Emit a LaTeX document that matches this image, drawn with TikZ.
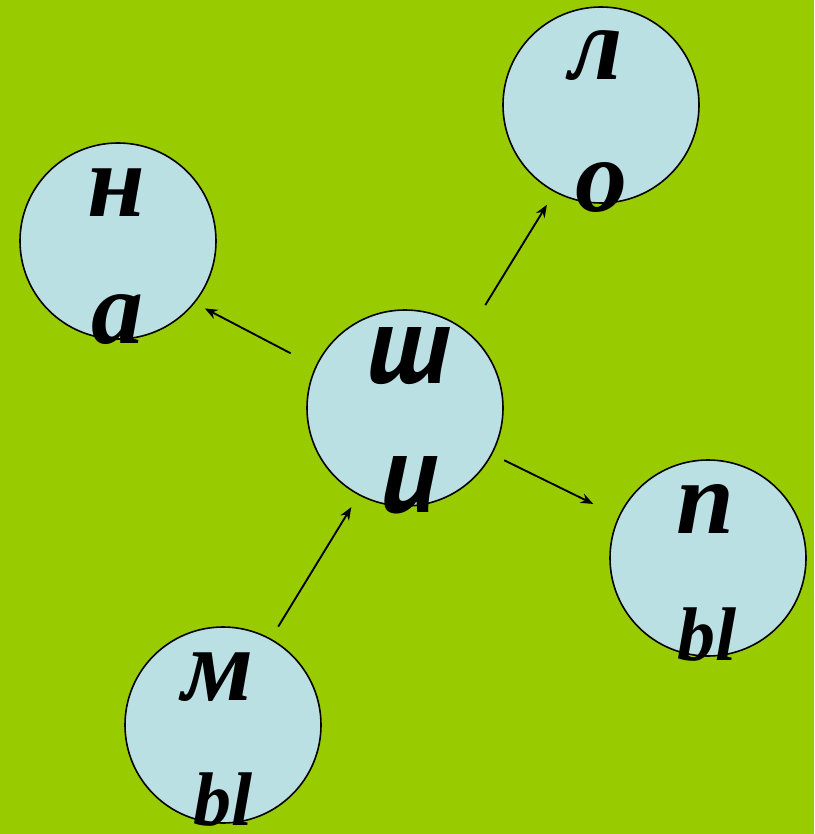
\documentclass[tikz,border=0pt]{standalone}
\usepackage{fontspec}
\setmainfont{Liberation Serif}
\newfontfamily\shifont{PT Sans}
\usetikzlibrary{arrows.meta, positioning}
\definecolor{mLime}{HTML}{99CC00}
\definecolor{mPale}{HTML}{BBE0E3}

\begin{document}
\begin{tikzpicture}[x=0.75pt, y=-0.75pt,
    bubble/.style={circle, draw, line width=1.2pt, fill=mPale, minimum size=147pt, inner sep=0pt},
    letterbig/.style={anchor=base, inner sep=0pt, font=\fontsize{78}{78}\selectfont\bfseries\itshape},
    lettersmall/.style={anchor=base, inner sep=0pt, font=\fontsize{57}{57}\selectfont\bfseries\itshape},
    lettermid/.style={anchor=base, inner sep=0pt, font=\shifont\fontsize{84}{84}\selectfont\bfseries\itshape},
    link/.style={-{Stealth[length=9.5pt, width=7.5pt]}, line width=1.4pt}]
    \useasboundingbox (0,0) rectangle (814,834);
    \fill[mLime] (0,0) rectangle (814,834);
    \node[bubble] (na) at (118,241) {};
    \node[bubble] (lo) at (601,105) {};
    \node[bubble] (shi) at (405,408) {};
    \node[bubble] (pb) at (708,558) {};
    \node[bubble] (mb) at (223,725) {};
    \node[letterbig] (na1) at (116,217) {н};
    \node[letterbig] (na2) at (117,343) {а};
    \node[letterbig] (lo1) at (596,80) {л};
    \node[letterbig] (lo2) at (601,211) {о};
    \node[lettermid] (shi1) at (408,383) {ш};
    \node[lettermid] (shi2) at (409,512) {и};
    \node[letterbig] (pb1) at (705,533) {п};
    \node[lettersmall] (pb2) at (707,660) {bl};
    \node[letterbig] (mb1) at (218,700) {м};
    \node[lettersmall] (mb2) at (223,825) {bl};
    \draw[link, shorten <=21pt, shorten >=8.5pt] (shi.155) -- (na.-39);
    \draw[link, shorten <=24pt, shorten >=11pt] (shi.50) -- (lo.242);
    \draw[link, shorten <=10pt, shorten >=21pt] (shi.-28) -- (pb.155);
    \draw[link, shorten <=10.5pt, shorten >=10.5pt] (mb.61) -- (shi.242);
  \end{tikzpicture}
\end{document}
